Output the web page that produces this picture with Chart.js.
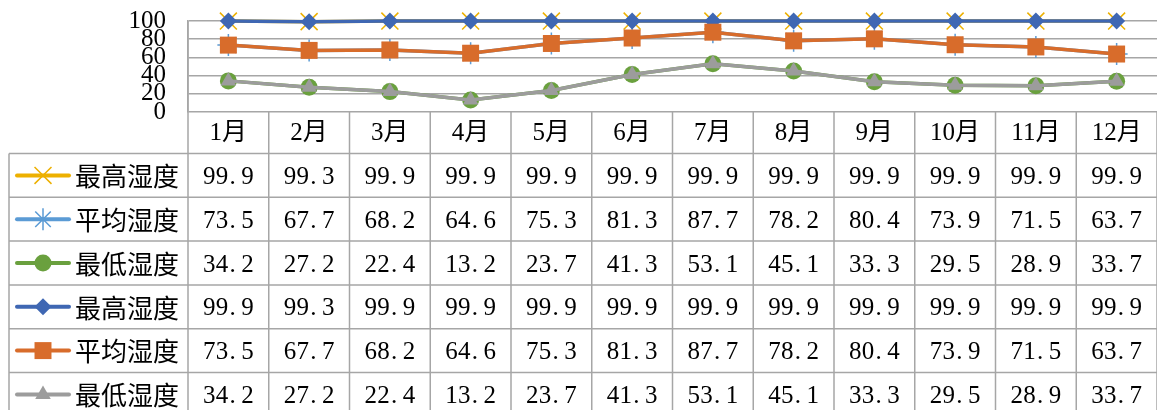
<!DOCTYPE html>
<html>
<head>
<meta charset="utf-8">
<script src="https://cdn.jsdelivr.net/npm/chart.js@4/dist/chart.umd.min.js"></script>
<style>
  html, body { margin: 0; padding: 0; background: #fff; }
  #wrap { width: 1157px; height: 410px; }
</style>
</head>
<body>
<div id="wrap"><canvas id="humidity" width="1157" height="410"></canvas></div>
<script>
const months = ['1月', '2月', '3月', '4月', '5月', '6月', '7月', '8月', '9月', '10月', '11月', '12月'];
const highHumidity = [99.9, 99.3, 99.9, 99.9, 99.9, 99.9, 99.9, 99.9, 99.9, 99.9, 99.9, 99.9];
const avgHumidity = [73.5, 67.7, 68.2, 64.6, 75.3, 81.3, 87.7, 78.2, 80.4, 73.9, 71.5, 63.7];
const lowHumidity = [34.2, 27.2, 22.4, 13.2, 23.7, 41.3, 53.1, 45.1, 33.3, 29.5, 28.9, 33.7];
const seriesNames = ['最高湿度', '平均湿度', '最低湿度', '最高湿度', '平均湿度', '最低湿度'];

const gridColor = '#a6a6a6';
const serif = "'Liberation Serif', 'Noto Sans CJK SC', serif";

// each series: values, colour, marker style, marker radius
const series = [
  { data: highHumidity, color: '#edb000', marker: 'crossRot', r: 12 },
  { data: avgHumidity, color: '#5b9bd5', marker: 'star', r: 11 },
  { data: lowHumidity, color: '#6aa03e', marker: 'circle', r: 8.5 },
  { data: highHumidity, color: '#3f67b3', marker: 'rectRot', r: 8.5 },
  { data: avgHumidity, color: '#d86c2b', marker: 'rect', r: 12 },
  { data: lowHumidity, color: '#9c9c9c', marker: 'triangle', r: 9 }
];

const isOpen = m => m === 'crossRot' || m === 'star';

const datasets = series.map((s, i) => ({
  label: seriesNames[i],
  data: s.data,
  borderColor: s.color,
  backgroundColor: s.color,
  borderWidth: 3.5,
  pointStyle: s.marker,
  pointRadius: s.r,
  pointBorderWidth: isOpen(s.marker) ? 1.5 : 0,
  pointBorderColor: s.color,
  pointBackgroundColor: s.color,
  tension: 0,
  clip: false,
  order: series.length - i
}));

// draw one character at a time with a fixed advance so numbers look monospaced
function drawMono(ctx, text, cx, baseline, advance) {
  let x = cx - text.length * advance / 2;
  for (const ch of text) {
    if (ch === '.') {
      ctx.textAlign = 'left';
      ctx.fillText(ch, x + 1, baseline);
    } else {
      ctx.textAlign = 'center';
      ctx.fillText(ch, x + advance / 2, baseline);
    }
    x += advance;
  }
}

const dataTable = {
  id: 'dataTable',
  afterDraw(chart) {
    const ctx = chart.ctx;
    const area = chart.chartArea;
    const xs = chart.scales.x;
    const colW = (area.right - area.left) / months.length;
    const tableLeft = 9;
    const headerBottom = 153.5;
    const rowH = 43.8;
    const bottom = chart.height;

    ctx.save();
    ctx.strokeStyle = gridColor;
    ctx.lineWidth = 1.5;
    ctx.beginPath();
    // column lines
    for (let i = 0; i <= months.length; i++) {
      const x = area.left + i * colW;
      ctx.moveTo(x, i === 0 ? area.top : area.bottom);
      ctx.lineTo(x, bottom);
    }
    // row lines
    for (let r = 0; r < series.length; r++) {
      const y = headerBottom + r * rowH;
      ctx.moveTo(tableLeft, y);
      ctx.lineTo(chart.width, y);
    }
    ctx.moveTo(tableLeft, headerBottom);
    ctx.lineTo(tableLeft, bottom);
    ctx.stroke();

    // month header
    ctx.fillStyle = '#000';
    ctx.font = '25px ' + serif;
    ctx.textAlign = 'center';
    ctx.textBaseline = 'middle';
    months.forEach((m, i) => {
      ctx.fillText(m, xs.getPixelForValue(i), (area.bottom + headerBottom) / 2 + 1);
    });

    // series rows: legend key, name, then one value per month
    series.forEach((s, r) => {
      const cy = headerBottom + r * rowH + rowH / 2;

      ctx.strokeStyle = s.color;
      ctx.fillStyle = s.color;
      ctx.lineWidth = 4;
      ctx.lineCap = 'round';
      ctx.beginPath();
      ctx.moveTo(17, cy);
      ctx.lineTo(69, cy);
      ctx.stroke();
      ctx.lineWidth = 1.5;
      ctx.lineCap = 'butt';
      Chart.helpers.drawPoint(ctx, {
        pointStyle: s.marker,
        radius: s.r,
        rotation: 0,
        borderWidth: isOpen(s.marker) ? 1.5 : 0
      }, 43, cy);

      ctx.fillStyle = '#000';
      ctx.font = "26px 'Noto Sans CJK SC', sans-serif";
      ctx.textAlign = 'left';
      ctx.textBaseline = 'middle';
      ctx.fillText(seriesNames[r], 75, cy + 1);

      ctx.font = '25px ' + serif;
      ctx.textBaseline = 'alphabetic';
      s.data.forEach((v, i) => {
        drawMono(ctx, v.toFixed(1), xs.getPixelForValue(i), cy + 8.5, 12.75);
      });
    });
    ctx.restore();
  }
};

// the y axis reserves half a label height plus tick padding above the plot,
// so keep the padding small and push the labels left with invisible tick marks
new Chart(document.getElementById('humidity'), {
  type: 'line',
  data: { labels: months, datasets },
  options: {
    responsive: false,
    animation: false,
    devicePixelRatio: 1,
    layout: { autoPadding: false, padding: { top: 0, bottom: 298, left: 0, right: 0 } },
    plugins: {
      legend: { display: false },
      tooltip: { enabled: false }
    },
    scales: {
      x: {
        display: false,
        offset: true
      },
      y: {
        min: 0,
        max: 100,
        afterFit(scale) { scale.width = 188; },
        ticks: {
          stepSize: 20,
          autoSkip: false,
          padding: 6,
          color: '#000',
          font: { family: serif, size: 25 }
        },
        grid: {
          color: gridColor,
          lineWidth: 1.5,
          drawTicks: true,
          tickLength: 16,
          tickColor: 'rgba(0,0,0,0)'
        },
        border: { display: true, color: gridColor, width: 1.5 }
      }
    }
  },
  plugins: [dataTable]
});
</script>
</body>
</html>
